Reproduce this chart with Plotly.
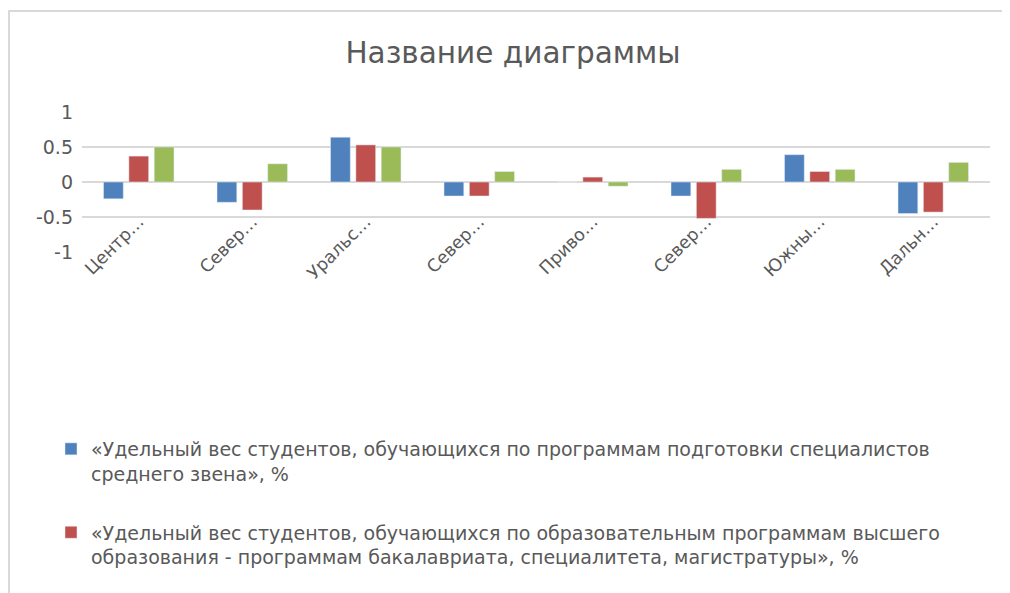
import plotly.graph_objects as go

categories = ["Центральный", "Северо-Западный", "Уральский", "Северо-Кавказский",
              "Приволжский", "Северный", "Южный", "Дальневосточный"]
tick_labels = ["Центр…", "Север…", "Уральс…", "Север…", "Приво…", "Север…", "Южны…", "Дальн…"]

series1 = [-0.24, -0.29, 0.64, -0.20, 0.0, -0.20, 0.39, -0.45]
series2 = [0.37, -0.40, 0.53, -0.20, 0.07, -0.52, 0.15, -0.43]
series3 = [0.50, 0.26, 0.50, 0.15, -0.06, 0.18, 0.18, 0.28]

name1 = "«Удельный вес студентов, обучающихся по программам подготовки специалистов<br>среднего звена», %"
name2 = "«Удельный вес студентов, обучающихся по образовательным программам высшего<br>образования - программам бакалавриата, специалитета, магистратуры», %"
name3 = "Ряд 3"

FONT = "DejaVu Sans, sans-serif"
GRAY = "#595959"

# page body adds an 8px offset; figure coordinates are compensated
OFF = 8
W, H = 1010, 593
PL, PR, PT, PB = 82 - OFF, 990 - OFF, 112 - OFF, 252 - OFF

fig = go.Figure()
fig.add_trace(go.Bar(x=categories, y=series1, name=name1, marker_color="#4F81BD", legendgroup="a"))
fig.add_trace(go.Bar(x=categories, y=series2, name=name2, marker_color="#C0504D", legendgroup="b"))
fig.add_trace(go.Bar(x=categories, y=series3, name=name3, marker_color="#9BBB59", showlegend=False))

fig.update_layout(
    width=W, height=H,
    paper_bgcolor="white", plot_bgcolor="white",
    margin=dict(l=PL, r=W - PR, t=PT, b=H - PB, autoexpand=False),
    barmode="group", bargap=0.33, bargroupgap=0.22,
    title=dict(text="Название диаграммы", x=(513 - OFF) / W, xanchor="center",
               y=1 - (53 - OFF) / H, yanchor="middle",
               font=dict(family=FONT, size=29.5, color=GRAY)),
    font=dict(family=FONT, color=GRAY),
    legend=dict(xref="container", yref="container", x=(51 - OFF) / W, y=1 - (430 - OFF) / H,
                xanchor="left", yanchor="top", font=dict(size=19, color=GRAY, family=FONT),
                tracegroupgap=31, itemwidth=30, valign="top", bgcolor="rgba(0,0,0,0)"),
)

fig.update_xaxes(
    tickmode="array", tickvals=categories, ticktext=tick_labels, tickangle=-45,
    tickfont=dict(size=17.5, color=GRAY, family=FONT), showgrid=False, showline=False, ticks="",
    ticklabelstandoff=-45,
)
fig.update_yaxes(
    range=[-1, 1], tickvals=[-1, -0.5, 0, 0.5, 1], ticktext=["-1", "-0.5", "0", "0.5", "1"],
    tickfont=dict(size=19, color=GRAY, family=FONT), showgrid=True, gridcolor="#d9d9d9", gridwidth=1.5,
    zeroline=True, zerolinecolor="#d9d9d9", zerolinewidth=1.5, showline=False, ticks="",
    ticklabelstandoff=8,
)

# chart border (light gray frame)
pw, ph = PR - PL, PB - PT
fig.add_shape(type="rect", xref="paper", yref="paper",
              x0=(9 - 82) / pw, x1=1.2, y0=-3, y1=(252 - 11) / ph,
              line=dict(color="#d9d9d9", width=2), fillcolor="rgba(0,0,0,0)", layer="below")

fig.write_html("out.html")
